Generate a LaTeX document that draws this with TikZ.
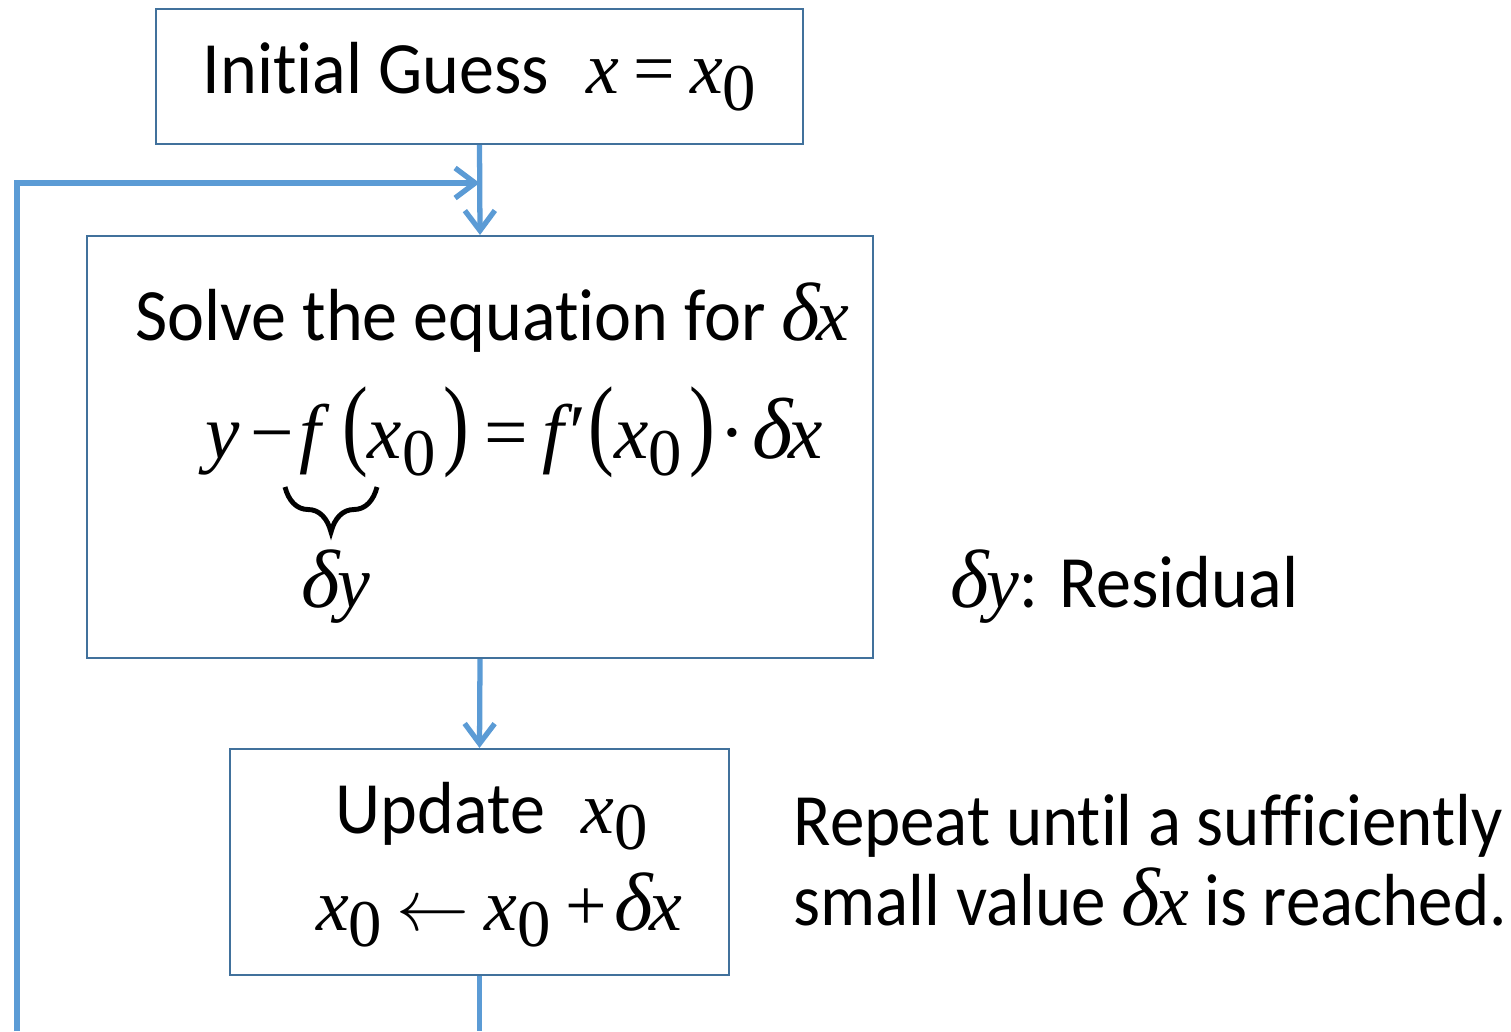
\documentclass[tikz,border=0pt]{standalone}
\usepackage{fontspec}
\usepackage{graphicx}
\setmainfont[Ligatures=NoCommon, FakeStretch=0.95]{Carlito}
\newfontfamily\tms{Liberation Serif}
\usepackage{tikz}
\usetikzlibrary{arrows.meta, positioning, calc, decorations.pathreplacing}
\definecolor{boxc}{RGB}{65,113,156}
\definecolor{flowc}{RGB}{91,155,213}
% math set in a Times face
\newcommand{\mv}[1]{{\tms\itshape #1}}
\newcommand{\mr}[1]{{\tms #1}}
\newcommand{\dlt}{\mv{\scalebox{1.12}{δ}}}
\newcommand{\gap}[1]{\hspace{#1em}}
\newcommand{\dx}{\dlt\gap{-0.05}\mv{x}}
\newcommand{\lowidx}[1]{\raisebox{-0.23em}{\tms\fontsize{19}{19}\selectfont #1}}
\newcommand{\tallp}[1]{\raisebox{0.02em}{\scalebox{1}[1.3]{\tms #1}}}

\begin{document}
\begin{tikzpicture}[
    box/.style={draw=boxc, line width=0.6pt, inner sep=0pt},
    flow/.style={flowc, line width=1.5pt, -{Straight Barb[length=2mm, width=3mm, line width=1.5pt]}},
    plain/.style={flowc, line width=1.5pt},
    txt/.style={font=\fontsize{21}{25}\selectfont, inner sep=0pt},
    note/.style={font=\fontsize{21}{25}\selectfont\addfontfeature{FakeStretch=0.935}, inner sep=0pt}]
  \useasboundingbox (0,0) rectangle (15.11,-10.31);
  % boxes
  \node[box, txt, minimum width=6.47cm, minimum height=1.35cm] (init) at (4.795,-0.765)
    {Initial Guess\enspace\mv{x}\gap{0.2}\mr{=}\gap{0.2}\mv{x}\lowidx{0}};
  \node[box, minimum width=7.86cm, minimum height=4.22cm] (solve) at (4.80,-4.47) {};
  \node[box, minimum width=4.99cm, minimum height=2.26cm] (update) at (4.795,-8.62) {};
  % texts in the boxes
  \node[txt, anchor=base west] (solvetitle) at (1.35,-3.40) {Solve the equation for \dx};
  \node[txt, font=\fontsize{22}{26}\selectfont, anchor=base west] (eqn) at (2.05,-4.58)
    {\mv{y}\gap{0.14}\mr{−}\gap{0.06}\mv{f}\gap{0.28}\tallp{(}\mv{x}\lowidx{0}\gap{0.1}\tallp{)}\gap{0.2}\mr{=}\gap{0.18}\mv{f}\gap{0.08}\mr{′}\gap{0.02}\tallp{(}\mv{x}\lowidx{0}\gap{0.1}\tallp{)}\gap{0.05}\mr{·}\gap{0.1}\dx};
  \node[txt, anchor=base] (dy) at (3.36,-6.07) {\dlt\gap{-0.03}\mv{y}};
  \draw[line width=1.4pt, decorate, decoration={brace, amplitude=0.45cm}] (3.77,-4.87) -- (2.85,-4.87);
  \node[txt, anchor=base] (updatetitle) at (4.92,-8.33) {Update\enspace\mv{x}\lowidx{0}};
  \node[txt, anchor=base] (updateeqn) at (4.99,-9.30)
    {\mv{x}\lowidx{0}\gap{0.2}$\leftarrow$\gap{0.2}\mv{x}\lowidx{0}\gap{0.2}\mr{+}\gap{0.1}\dx};
  % notes on the right
  \node[txt, anchor=base west] (residual) at (9.50,-6.07) {\dlt\gap{-0.03}\mv{y}: Residual};
  \node[note, anchor=base west] (repeatA) at (7.93,-8.45) {Repeat until a sufficiently};
  \node[note, anchor=base west] (repeatB) at (7.93,-9.25) {small value \dx\ is reached.};
  % flow
  \coordinate (join) at (init.south |- 0,-1.83);
  \coordinate (loopstart) at (0.17,-10.31);
  \coordinate (bottomend) at (update.south |- 0,-10.31);
  \draw[flow] (init.south) -- (solve.north);
  \draw[flow] (loopstart) |- (join);
  \draw[flow] (solve.south) -- (update.north);
  \draw[plain] (update.south) -- (bottomend);
\end{tikzpicture}
\end{document}
